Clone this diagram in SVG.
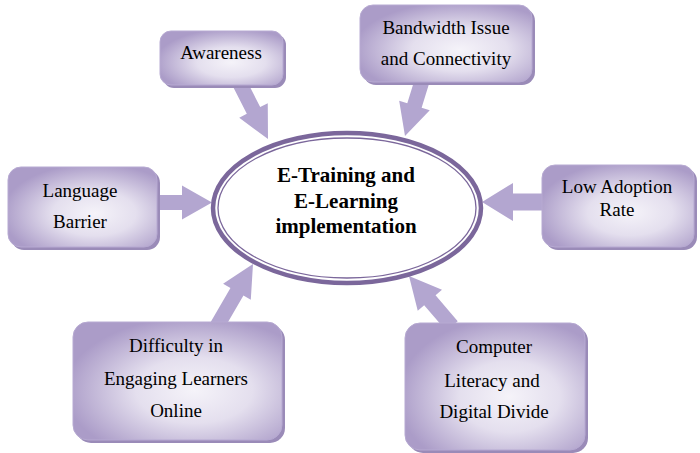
<svg xmlns="http://www.w3.org/2000/svg" width="700" height="453" viewBox="0 0 700 453">
<defs>
<radialGradient id="boxg" cx="0.58" cy="0.58" r="0.62">
<stop offset="0" stop-color="#f5f3f9"/>
<stop offset="0.45" stop-color="#e4dfee"/>
<stop offset="1" stop-color="#ab9cc8"/>
</radialGradient>
<style>
.shadow{fill:#9a8bb8}
.box{fill:url(#boxg);stroke:#b7aad2;stroke-width:1}
.arr{fill:#b3a6d0}
</style>
</defs>
<rect width="700" height="453" fill="#ffffff"/>
<g id="connectors">
<path class="arr" transform="translate(268,139) rotate(63.05)" d="M-66,-7.5 L-32,-7.5 L-32,-16 L0,0 L-32,16 L-32,7.5 L-66,7.5 Z"/>
<path class="arr" transform="translate(405,136) rotate(107.2)" d="M-61,-7.5 L-32,-7.5 L-32,-16 L0,0 L-32,16 L-32,7.5 L-61,7.5 Z"/>
<path class="arr" transform="translate(212,202.5) rotate(0)" d="M-62,-7.5 L-30,-7.5 L-30,-17 L0,0 L-30,17 L-30,7.5 L-62,7.5 Z"/>
<path class="arr" transform="translate(482,202) rotate(180)" d="M-66,-8.5 L-31,-8.5 L-31,-19 L0,0 L-31,19 L-31,8.5 L-66,8.5 Z"/>
<path class="arr" transform="translate(253,264) rotate(-59.9)" d="M-72,-7.5 L-32,-7.5 L-32,-16 L0,0 L-32,16 L-32,7.5 L-72,7.5 Z"/>
<path class="arr" transform="translate(409,276) rotate(-130.7)" d="M-66,-7.5 L-32,-7.5 L-32,-16 L0,0 L-32,16 L-32,7.5 L-66,7.5 Z"/>
</g>
<g id="center" text-anchor="middle">
<ellipse cx="347" cy="208" rx="134" ry="75" fill="#ffffff" stroke="#7b679b" stroke-width="4.5"/>
<ellipse cx="347" cy="208" rx="129" ry="70" fill="none" stroke="#7b679b" stroke-width="1.3"/>
<text x="346" y="182" font-family="Liberation Serif, serif" font-size="21" font-weight="bold">E-Training  and</text>
<text x="346" y="208" font-family="Liberation Serif, serif" font-size="21" font-weight="bold">E-Learning</text>
<text x="346" y="233" font-family="Liberation Serif, serif" font-size="21" font-weight="bold">implementation</text>
</g>
<g id="awareness" text-anchor="middle">
<rect class="shadow" x="163" y="34" width="123" height="54" rx="11"/>
<rect class="box" x="160" y="31" width="123" height="54" rx="11"/>
<text x="221" y="59" font-family="Liberation Serif, serif" font-size="19">Awareness</text>
</g>
<g id="bandwidth" text-anchor="middle">
<rect class="shadow" x="363" y="8" width="172" height="77" rx="13"/>
<rect class="box" x="360" y="5" width="172" height="77" rx="13"/>
<text x="446" y="34" font-family="Liberation Serif, serif" font-size="19">Bandwidth Issue</text>
<text x="446" y="65" font-family="Liberation Serif, serif" font-size="19">and Connectivity</text>
</g>
<g id="language" text-anchor="middle">
<rect class="shadow" x="11" y="170" width="149" height="80" rx="13"/>
<rect class="box" x="8" y="167" width="149" height="80" rx="13"/>
<text x="80" y="197" font-family="Liberation Serif, serif" font-size="19">Language</text>
<text x="80" y="228" font-family="Liberation Serif, serif" font-size="19">Barrier</text>
</g>
<g id="adoption" text-anchor="middle">
<rect class="shadow" x="545" y="168" width="152" height="82" rx="13"/>
<rect class="box" x="542" y="165" width="152" height="82" rx="13"/>
<text x="617" y="193" font-family="Liberation Serif, serif" font-size="19">Low Adoption</text>
<text x="617" y="216" font-family="Liberation Serif, serif" font-size="19">Rate</text>
</g>
<g id="difficulty" text-anchor="middle">
<rect class="shadow" x="76" y="325" width="209" height="118" rx="15"/>
<rect class="box" x="73" y="322" width="209" height="118" rx="15"/>
<text x="176" y="352" font-family="Liberation Serif, serif" font-size="19">Difficulty in</text>
<text x="176" y="385" font-family="Liberation Serif, serif" font-size="19">Engaging Learners</text>
<text x="176" y="417" font-family="Liberation Serif, serif" font-size="19">Online</text>
</g>
<g id="computer" text-anchor="middle">
<rect class="shadow" x="408" y="326" width="180" height="127" rx="15"/>
<rect class="box" x="405" y="323" width="180" height="127" rx="15"/>
<text x="494" y="353" font-family="Liberation Serif, serif" font-size="19">Computer</text>
<text x="492" y="387" font-family="Liberation Serif, serif" font-size="19">Literacy and</text>
<text x="494" y="418" font-family="Liberation Serif, serif" font-size="19">Digital Divide</text>
</g>
</svg>
